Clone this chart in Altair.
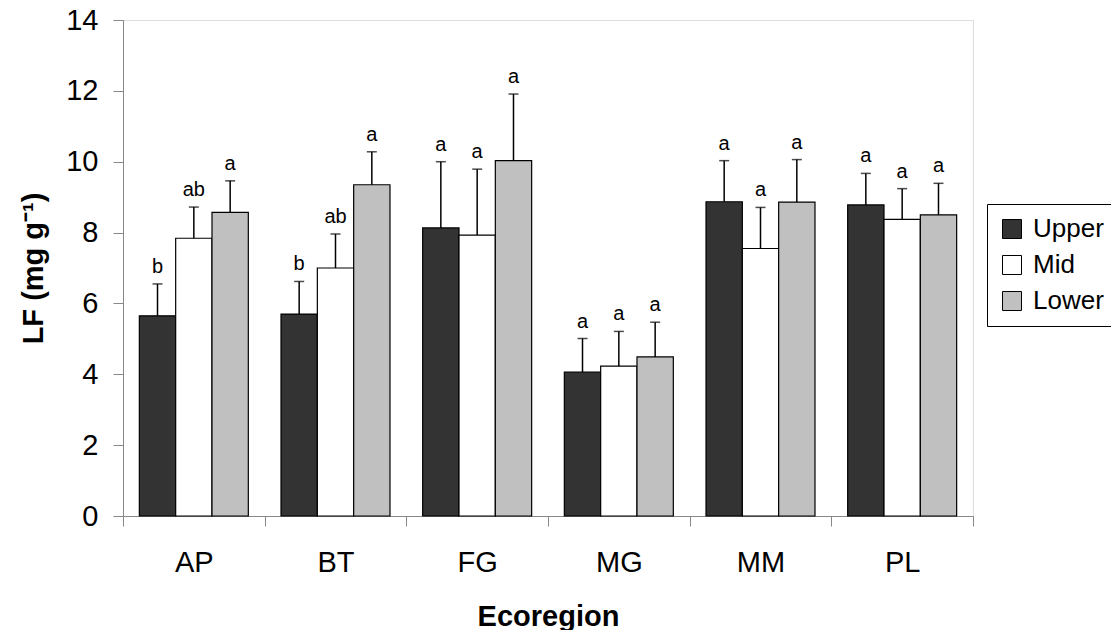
import altair as alt
import pandas as pd

# ---- data ----
regions = ["AP", "BT", "FG", "MG", "MM", "PL"]
positions = ["Upper", "Mid", "Lower"]

upper_vals = [5.65, 5.70, 8.13, 4.06, 8.87, 8.78]
upper_se = [0.90, 0.92, 1.87, 0.95, 1.16, 0.89]
upper_letters = ["b", "b", "a", "a", "a", "a"]

mid_vals = [7.84, 7.00, 7.93, 4.23, 7.55, 8.37]
mid_se = [0.88, 0.96, 1.86, 0.98, 1.16, 0.87]
mid_letters = ["ab", "ab", "a", "a", "a", "a"]

lower_vals = [8.57, 9.35, 10.03, 4.49, 8.86, 8.50]
lower_se = [0.89, 0.93, 1.88, 0.98, 1.20, 0.89]
lower_letters = ["a", "a", "a", "a", "a", "a"]

y_ticks = [0, 2, 4, 6, 8, 10, 12, 14]
colors = ["#333333", "#ffffff", "#c0c0c0"]

rows = []
for pos, vals, ses, lets in zip(positions,
                                [upper_vals, mid_vals, lower_vals],
                                [upper_se, mid_se, lower_se],
                                [upper_letters, mid_letters, lower_letters]):
    for r, v, s, l in zip(regions, vals, ses, lets):
        rows.append(dict(Ecoregion=r, Position=pos, LF=v, SE=s, Top=v + s, Letter=l))
df = pd.DataFrame(rows)

FONT = "Liberation Sans"

x = alt.X(
    "Ecoregion:N", sort=regions,
    scale=alt.Scale(paddingInner=0, paddingOuter=0),
    axis=alt.Axis(title="Ecoregion", labelAngle=0, tickBand="extent", tickSize=10,
                  labelPadding=22, labelFontSize=29, titleFontSize=29,
                  titleFontWeight="bold", titleY=109, titleBaseline="alphabetic"),
)
xo = alt.XOffset("Position:N", sort=positions,
                 scale=alt.Scale(domain=positions, paddingInner=0, paddingOuter=0.45))

y_axis = alt.Axis(values=y_ticks, tickSize=10, labelPadding=15, labelFontSize=29,
                  title="LF (mg g⁻¹)", titleFontSize=29, titleFontWeight="bold",
                  titleAngle=-90, titleX=-81, titleY=248, titleBaseline="alphabetic",
                  grid=False)

base = alt.Chart(df)

bars = base.mark_bar(stroke="black", strokeWidth=1.2).encode(
    x=x, xOffset=xo,
    y=alt.Y("LF:Q", scale=alt.Scale(domain=[0, 14]), axis=y_axis),
    fill=alt.Fill("Position:N", sort=positions,
                  scale=alt.Scale(domain=positions, range=colors),
                  legend=alt.Legend(title=None, orient="none", legendX=864, legendY=184,
                                    strokeColor="black", fillColor="white", padding=12,
                                    symbolType="square", symbolSize=361,
                                    symbolStrokeColor="black", symbolStrokeWidth=1,
                                    labelFontSize=26, labelFont=FONT, labelColor="black",
                                    rowPadding=10, labelOffset=8)),
)

err = base.mark_rule(color="black", strokeWidth=1.5).encode(
    x=x, xOffset=xo, y="LF:Q", y2="Top:Q")

caps = base.mark_tick(color="black", thickness=1.5, size=10).encode(
    x=x, xOffset=xo, y="Top:Q")

letters = base.mark_text(fontSize=20, dy=-11, baseline="alphabetic", font=FONT,
                         color="black").encode(
    x=x, xOffset=xo, y="Top:Q", text="Letter:N")

chart = alt.layer(bars, err, caps, letters).properties(
    width=850, height=496,
    autosize="none",
    padding={"left": 123, "top": 20, "right": 138, "bottom": 114},
).configure_view(stroke="#808080", strokeWidth=1).configure_axis(
    domainColor="black", tickColor="black", labelColor="black", titleColor="black",
    labelFont=FONT, titleFont=FONT, domainWidth=1.2, tickWidth=1.2,
).configure(background="white")

chart.save("out.html", embed_options={"renderer": "svg", "actions": False})
